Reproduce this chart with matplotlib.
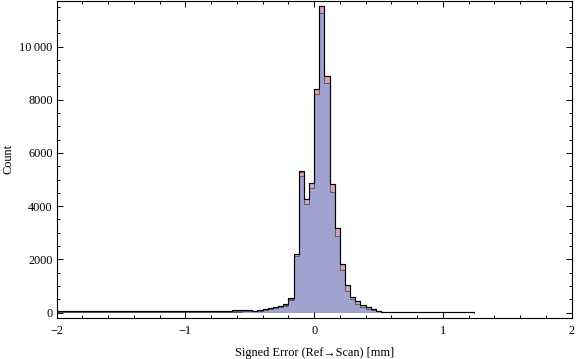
import numpy as np
import matplotlib
matplotlib.use("Agg")
import matplotlib.pyplot as plt
from matplotlib.ticker import MultipleLocator, FuncFormatter, FixedLocator

# ---------------- data ----------------
# left tail: bins of 0.08 from -2.00 to -0.48
left_edges = [-2.00, -1.92, -1.84, -1.76, -1.68, -1.60, -1.52, -1.44, -1.36, -1.28,
              -1.20, -1.12, -1.04, -0.96, -0.88, -0.80, -0.72, -0.64, -0.56, -0.48]
left_purple = [12, 12, 12, 12, 12, 12, 15, 15, 15, 18, 18, 20, 20, 22, 25, 28, 30, 35, 40]
left_pink = [25, 25, 25, 25, 25, 25, 28, 28, 28, 30, 30, 32, 32, 35, 38, 40, 45, 50, 55]
left_yellow = [70, 62, 58, 60, 55, 52, 58, 66, 60, 52, 58, 62, 55, 60, 64, 68, 72, 80, 88]

# core: bins of 0.04 from -0.48 to 0.60
core_edges = [-0.48, -0.44, -0.40, -0.36, -0.32, -0.28, -0.24, -0.20, -0.16, -0.12,
              -0.08, -0.04, 0.00, 0.04, 0.08, 0.12, 0.16, 0.20, 0.24, 0.28,
              0.32, 0.36, 0.40, 0.44, 0.48, 0.52, 0.56, 0.60]
core_purple = [50, 60, 90, 130, 160, 200, 260, 470, 2130, 5130, 4080, 4680, 8215, 11260,
               8630, 4540, 2890, 1586, 820, 496, 331, 200, 140, 95, 55, 28, 22]
core_pink = [60, 75, 110, 150, 185, 230, 300, 520, 2200, 5270, 4255, 4857, 8400, 11520,
             8890, 4830, 3165, 1823, 1022, 600, 420, 275, 190, 120, 70, 35, 30]
core_yellow = [75, 95, 130, 175, 200, 250, 320, 560, 2180, 5330, 4150, 4750, 8300, 11350,
               8700, 4600, 2950, 1650, 870, 520, 350, 210, 150, 100, 60, 30, 25]

# right tail
right_edges = [0.60, 0.80, 1.24]
right_purple = [8, 4]
right_pink = [10, 5]
right_yellow = [12, 5]

x_ticks = [-2, -1, 0, 1, 2]
y_ticks = [0, 2000, 4000, 6000, 8000, 10000]

# ---------------- assemble ----------------
edges = np.array(left_edges + core_edges[1:] + right_edges[1:])
purple = np.array(left_purple + core_purple + right_purple, dtype=float)
pink = np.array(left_pink + core_pink + right_pink, dtype=float)
yellow = np.array(left_yellow + core_yellow + right_yellow, dtype=float)
total = np.maximum(np.maximum(purple, pink), yellow)

serif = ["Liberation Serif", "DejaVu Serif"]
plt.rcParams["font.family"] = serif
plt.rcParams["axes.unicode_minus"] = True

fig = plt.figure(figsize=(5.76, 3.59), dpi=100)
ax = fig.add_axes([56.7 / 576, (359 - 318.3) / 359, (571.5 - 56.7) / 576, (318.3 - 0.5) / 359])

edge_col = "#5a5a5a"
for vals, col in [(yellow, "#CDC69C"), (pink, "#D4A3BF"), (purple, "#A1A1CF")]:
    ax.stairs(vals, edges, fill=True, color=col, linewidth=0)
    ax.stairs(vals, edges, fill=False, color=edge_col, linewidth=0.7, baseline=None)

ax.stairs(total, edges, fill=False, color="black", linewidth=0.85, baseline=0)

ax.set_xlim(-2, 2)
ax.set_ylim(-218, 11730)

ax.xaxis.set_major_locator(FixedLocator(x_ticks))
ax.xaxis.set_minor_locator(MultipleLocator(0.2))
ax.yaxis.set_major_locator(FixedLocator(y_ticks))
ax.yaxis.set_minor_locator(MultipleLocator(500))


def xfmt(v, pos):
    return f"{int(round(v))}".replace("-", "\u2212")


def yfmt(v, pos):
    v = int(round(v))
    if v >= 10000:
        s = f"{v:,}".replace(",", "\u2009")
        return s
    return str(v)


ax.xaxis.set_major_formatter(FuncFormatter(xfmt))
ax.yaxis.set_major_formatter(FuncFormatter(yfmt))

ax.tick_params(which="both", direction="in", top=True, right=True, width=0.7,
               color="black", labelsize=8.8)
ax.tick_params(which="major", length=4.5)
ax.tick_params(which="minor", length=2.5)
ax.tick_params(axis="x", pad=5)
ax.tick_params(axis="y", pad=3)
for sp in ax.spines.values():
    sp.set_linewidth(0.8)

ax.set_xlabel("Signed Error (Ref\u2192Scan) [mm]", fontsize=8.8, labelpad=7)
ax.set_ylabel("Count", fontsize=8.8)
ax.yaxis.set_label_coords((15 - 56.7) / (571.5 - 56.7), 0.5)

fig.savefig("out.png", dpi=100)
